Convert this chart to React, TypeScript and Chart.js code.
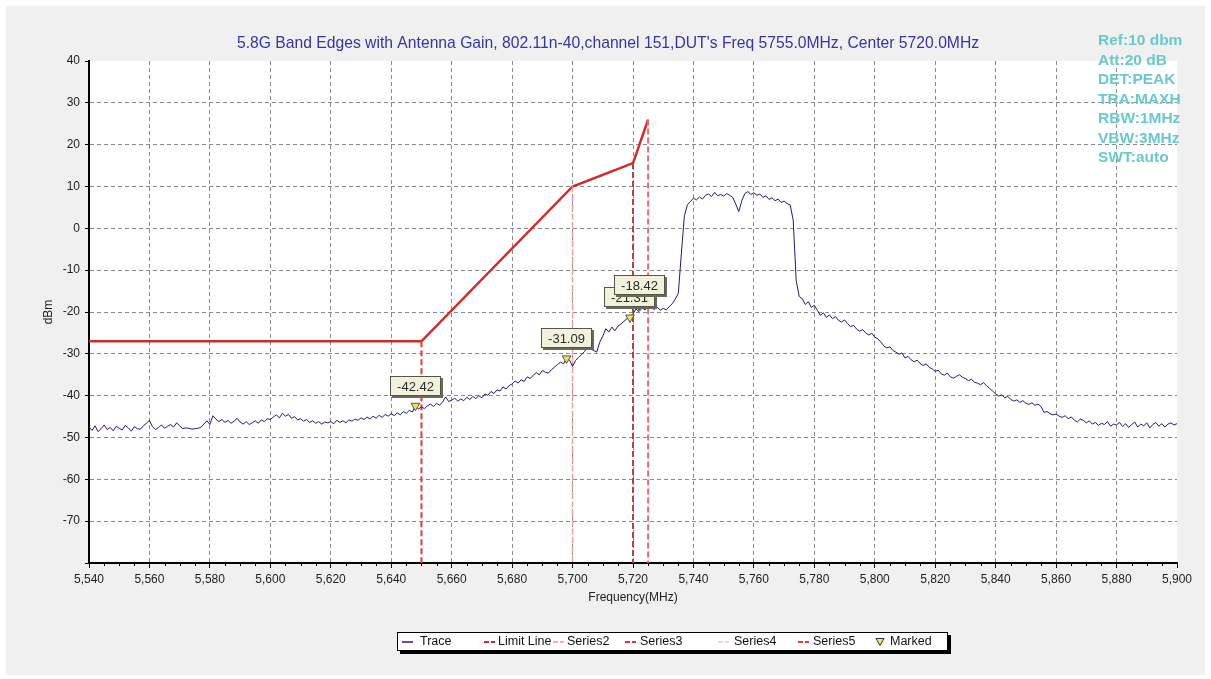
import { useEffect, useRef } from "react";
import { Chart, registerables } from "chart.js";

Chart.register(...registerables);

const TITLE =
  "5.8G Band Edges with Antenna Gain, 802.11n-40,channel 151,DUT's Freq 5755.0MHz, Center 5720.0MHz";
const INFO_LINES = ["Ref:10 dbm", "Att:20 dB", "DET:PEAK", "TRA:MAXH", "RBW:1MHz", "VBW:3MHz", "SWT:auto"];
const X_TITLE = "Frequency(MHz)";
const Y_TITLE = "dBm";

const X_MIN = 5540;
const X_MAX = 5900;
const X_STEP = 20;
const Y_MIN = -80;
const Y_MAX = 40;
const Y_STEP = 10;

// Trace: one value per MHz, starting at 5540 MHz
const TRACE_START = 5540;
const TRACE_STEP = 1;
const traceValues = [
  -47.5, -48.3, -47.2, -48.6, -47.9, -47.0, -48.1, -47.6, -48.4, -47.3, -47.8, -48.2, -47.1, -47.7, -48.5, -47.4, -47.9, -48.0, -47.2, -46.6,
  -45.9, -47.4, -48.1, -47.6, -47.0, -47.8, -47.3, -46.9, -47.5, -46.5, -47.2, -47.9, -47.7, -47.8, -48.0, -47.9, -47.8, -47.6, -46.8, -46.0,
  -46.9, -44.8, -45.6, -46.2, -45.7, -46.4, -45.9, -46.6, -46.1, -45.4, -46.3, -46.8, -46.2, -46.9, -46.5, -46.0, -46.6, -45.8, -46.2, -45.5,
  -45.7, -45.1, -44.6, -45.3, -44.2, -44.9, -44.5, -45.4, -45.0, -45.8, -45.5, -46.1, -45.7, -46.4, -46.0, -46.6, -46.2, -46.8, -46.3, -46.5,
  -46.2, -46.7, -45.9, -46.4, -46.0, -46.5, -45.8, -46.1, -45.6, -45.9, -45.3, -45.7, -45.1, -45.6, -44.9, -45.4, -44.7, -45.2, -44.5, -44.9,
  -44.3, -44.8, -44.1, -44.6, -43.8, -44.2, -43.5, -43.9, -42.4, -43.2, -42.7, -43.1, -42.4, -42.0, -42.6, -41.8, -42.3, -41.5, -40.3, -41.4,
  -41.1, -40.6, -41.3, -40.8, -41.2, -40.4, -40.9, -40.2, -40.7, -40.0, -40.5, -39.6, -39.9, -39.0, -39.5, -38.6, -38.9, -37.9, -38.4, -37.6,
  -37.2, -36.5, -37.0, -36.2, -36.6, -35.5, -35.9, -35.1, -34.5, -35.0, -34.0, -34.4, -34.6, -33.8, -33.2, -32.6, -32.0, -32.4, -31.2, -31.5,
  -33.0, -31.6, -30.8, -30.2, -29.4, -28.4, -28.9, -29.2, -29.6, -27.2, -25.8, -24.0, -24.8, -23.6, -24.5, -23.4, -22.9, -22.2, -21.6, -21.2,
  -20.4, -19.3, -19.9, -19.1, -19.5, -18.6, -18.9, -19.4, -18.8, -19.6, -19.1, -19.5, -18.7, -18.0, -16.9, -15.5, -6.0, 3.0, 5.6, 6.4,
  7.2, 6.8, 7.5, 7.0, 7.9, 8.2, 7.6, 8.6, 7.8, 8.1, 7.7, 8.3, 7.9, 7.4, 5.8, 4.0, 6.6, 8.3, 8.8, 8.1,
  8.5, 7.9, 8.2, 7.4, 7.8, 6.9, 7.3, 6.6, 7.0, 6.2, 6.5, 5.9, 5.6, 2.0, -12.5, -16.3, -16.8, -18.2, -17.5, -18.9,
  -18.4, -19.6, -20.8, -20.2, -21.3, -20.7, -21.6, -21.1, -22.0, -22.4, -21.9, -22.8, -23.5, -23.2, -24.1, -24.6, -24.2, -25.0, -25.5, -25.1,
  -26.0, -26.4, -27.2, -28.1, -28.6, -28.3, -29.2, -29.6, -30.1, -29.8, -31.0, -30.6, -31.4, -31.9, -31.5, -32.3, -32.8, -32.4, -33.2, -33.6,
  -34.2, -33.9, -34.8, -35.1, -34.6, -35.5, -35.8, -35.4, -35.0, -35.6, -35.9, -36.4, -36.1, -36.8, -37.0, -37.4, -36.9, -37.6, -38.3, -38.9,
  -39.6, -40.1, -39.8, -40.5, -40.2, -40.9, -41.3, -41.0, -41.6, -41.2, -41.8, -42.1, -41.7, -42.3, -42.0, -42.6, -44.0, -43.8, -44.3, -44.6,
  -44.4, -44.9, -45.2, -44.8, -45.5, -45.1, -45.8, -46.3, -45.6, -45.9, -46.5, -46.0, -46.8, -46.4, -47.1, -46.6, -46.9, -46.2, -47.3, -46.8,
  -47.0, -46.4, -47.4, -46.7, -47.6, -46.9, -46.3, -47.5, -46.8, -47.2, -46.5, -47.7, -46.9, -46.4, -47.3, -46.7, -47.5, -46.8, -46.5, -47.0, -46.7,
];

// Limit line
const limitFreqs = [5540, 5650, 5700, 5720, 5725];
const limitValues = [-27, -27, 10, 15.6, 26];

// Vertical band-edge lines
const series2Freqs = [5700, 5700];
const series2Values = [10, -80];
const series3Freqs = [5650, 5650];
const series3Values = [-27, -80];
const series4Freqs = [5725, 5725];
const series4Values = [26, -80];
const series5Freqs = [5720, 5720];
const series5Values = [15.6, -80];

// Markers
const markerFreqs = [5648, 5698, 5719, 5722];
const markerValues = [-42.42, -31.09, -21.31, -18.42];
const markerLabels = ["-42.42", "-31.09", "-21.31", "-18.42"];

const legendLabels = ["Trace", "Limit Line", "Series2", "Series3", "Series4", "Series5", "Marked"];

const FONT = "Arial, 'Liberation Sans', sans-serif";

const toPoints = (xs: number[], ys: number[]) => xs.map((x, i) => ({ x, y: ys[i] }));

const formatFreq = (v: number) => {
  const th = Math.floor(v / 1000);
  const rest = String(Math.round(v % 1000)).padStart(3, "0");
  return `${th},${rest}`;
};

const backgroundPlugin = {
  id: "bg",
  beforeDraw(chart: any) {
    const { ctx, width, height, chartArea } = chart;
    ctx.save();
    ctx.fillStyle = "#ffffff";
    ctx.fillRect(0, 0, width, height);
    ctx.fillStyle = "#f0f0f0";
    ctx.fillRect(6, 6, width - 12, height - 10);
    ctx.fillStyle = "#ffffff";
    ctx.fillRect(chartArea.left, chartArea.top, chartArea.right - chartArea.left, chartArea.bottom - chartArea.top);
    ctx.restore();
  },
};

const minorTickPlugin = {
  id: "minorTicks",
  afterDraw(chart: any) {
    const { ctx, chartArea } = chart;
    const xs = chart.scales.x;
    ctx.save();
    ctx.strokeStyle = "#000";
    ctx.lineWidth = 1;
    for (let f = X_MIN + 5; f < X_MAX; f += 5) {
      if (f % X_STEP === 0) continue;
      const px = Math.round(xs.getPixelForValue(f)) + 0.5;
      ctx.beginPath();
      ctx.moveTo(px, chartArea.bottom);
      ctx.lineTo(px, chartArea.bottom + 3);
      ctx.stroke();
    }
    ctx.restore();
  },
};

const textPlugin = {
  id: "texts",
  afterDraw(chart: any) {
    const { ctx } = chart;
    ctx.save();
    // title
    ctx.font = `15.7px ${FONT}`;
    ctx.fillStyle = "#3535a5";
    ctx.textAlign = "center";
    ctx.textBaseline = "middle";
    ctx.fillText(TITLE, 608, 44);
    // info lines
    ctx.font = `bold 15.5px ${FONT}`;
    ctx.fillStyle = "#6cc8cc";
    ctx.textAlign = "left";
    INFO_LINES.forEach((t, i) => {
      ctx.fillText(t, 1098, 41 + i * 19.5);
    });
    ctx.restore();
  },
};

const markerLabelPlugin = {
  id: "markerLabels",
  afterDatasetsDraw(chart: any) {
    const { ctx } = chart;
    const xs = chart.scales.x;
    const ys = chart.scales.y;
    ctx.save();
    ctx.font = `13px ${FONT}`;
    ctx.textAlign = "center";
    ctx.textBaseline = "middle";
    markerFreqs.forEach((f, i) => {
      const px = xs.getPixelForValue(f);
      const py = ys.getPixelForValue(markerValues[i]);
      const tw = ctx.measureText(markerLabels[i]).width;
      const w = Math.round(tw + 14);
      const h = 20;
      const left = Math.round(px - w / 2);
      const top = Math.round(py - 10 - h);
      ctx.fillStyle = "#6a6a5a";
      ctx.fillRect(left + 2, top + 2, w, h);
      ctx.fillStyle = "#f2f2dc";
      ctx.fillRect(left, top, w, h);
      ctx.strokeStyle = "#55554a";
      ctx.lineWidth = 1;
      ctx.strokeRect(left + 0.5, top + 0.5, w - 1, h - 1);
      ctx.fillStyle = "#2a2a2a";
      ctx.fillText(markerLabels[i], left + w / 2, top + h / 2 + 1);
    });
    ctx.restore();
  },
};

const legendPlugin = {
  id: "customLegend",
  afterDraw(chart: any) {
    const { ctx } = chart;
    const bx = 397;
    const by = 632;
    const bw = 551;
    const bh = 19;
    ctx.save();
    ctx.fillStyle = "#000";
    ctx.fillRect(bx + 3, by + 3, bw, bh);
    ctx.fillStyle = "#fff";
    ctx.fillRect(bx, by, bw, bh);
    ctx.strokeStyle = "#000";
    ctx.lineWidth = 1;
    ctx.strokeRect(bx + 0.5, by + 0.5, bw - 1, bh - 1);

    const cy = by + bh / 2 + 0.5;
    const items = [
      { sx: 402, tx: 420, color: "#1c1c80", dash: [] as number[], width: 1.5 },
      { sx: 484, tx: 498, color: "#c42a2e", dash: [5, 2], width: 2 },
      { sx: 553, tx: 567, color: "#f2b0b0", dash: [5, 2], width: 2 },
      { sx: 625, tx: 640, color: "#d83838", dash: [5, 2], width: 2 },
      { sx: 718, tx: 734, color: "#f4d2d2", dash: [5, 2], width: 2 },
      { sx: 798, tx: 813, color: "#d84040", dash: [5, 2], width: 2 },
    ];
    items.forEach((it, i) => {
      ctx.save();
      ctx.strokeStyle = it.color;
      ctx.lineWidth = it.width;
      ctx.setLineDash(it.dash);
      ctx.beginPath();
      ctx.moveTo(it.sx, cy);
      ctx.lineTo(it.sx + 11, cy);
      ctx.stroke();
      ctx.restore();
      ctx.font = `12.5px ${FONT}`;
      ctx.fillStyle = "#111";
      ctx.textAlign = "left";
      ctx.textBaseline = "middle";
      ctx.fillText(legendLabels[i], it.tx, cy);
    });
    // marked triangle
    ctx.beginPath();
    ctx.moveTo(876, cy - 3.5);
    ctx.lineTo(884, cy - 3.5);
    ctx.lineTo(880, cy + 3.5);
    ctx.closePath();
    ctx.fillStyle = "#f2e64a";
    ctx.fill();
    ctx.strokeStyle = "#333";
    ctx.lineWidth = 1;
    ctx.stroke();
    ctx.font = `12.5px ${FONT}`;
    ctx.fillStyle = "#111";
    ctx.textBaseline = "middle";
    ctx.fillText(legendLabels[6], 890, cy);
    ctx.restore();
  },
};

export default function App() {
  const canvasRef = useRef<HTMLCanvasElement | null>(null);

  useEffect(() => {
    document.body.style.margin = "0";
    document.body.style.overflow = "hidden";
    const canvas = canvasRef.current;
    if (!canvas) return;

    const tracePoints = traceValues.map((v, i) => ({ x: TRACE_START + i * TRACE_STEP, y: v }));

    const lineBase = {
      type: "line" as const,
      pointRadius: 0,
      pointHoverRadius: 0,
      tension: 0,
      fill: false,
    };

    const chart = new Chart(canvas, {
      type: "line",
      data: {
        datasets: [
          {
            ...lineBase,
            label: legendLabels[1],
            data: toPoints(limitFreqs, limitValues),
            borderColor: "#d22a2a",
            borderWidth: 2.5,
            order: 5,
          },
          {
            ...lineBase,
            label: legendLabels[2],
            data: toPoints(series2Freqs, series2Values),
            borderColor: "#f0a0a4",
            borderWidth: 1.5,
            borderDash: [6, 3],
            order: 4,
          },
          {
            ...lineBase,
            label: legendLabels[3],
            data: toPoints(series3Freqs, series3Values),
            borderColor: "#e23c3c",
            borderWidth: 2,
            borderDash: [6, 3],
            order: 4,
          },
          {
            ...lineBase,
            label: legendLabels[4],
            data: toPoints(series4Freqs, series4Values),
            borderColor: "#ec6a6e",
            borderWidth: 2,
            borderDash: [6, 3],
            order: 4,
          },
          {
            ...lineBase,
            label: legendLabels[5],
            data: toPoints(series5Freqs, series5Values),
            borderColor: "#a84848",
            borderWidth: 2,
            borderDash: [6, 3],
            order: 4,
          },
          {
            ...lineBase,
            label: legendLabels[0],
            data: tracePoints,
            borderColor: "#1c1c80",
            borderWidth: 1,
            order: 2,
          },
          {
            type: "scatter" as const,
            label: legendLabels[6],
            data: toPoints(markerFreqs, markerValues),
            pointStyle: "triangle",
            rotation: 180,
            pointRadius: 5,
            pointBackgroundColor: "#f2e64a",
            pointBorderColor: "#555",
            pointBorderWidth: 1,
            showLine: false,
            order: 1,
          },
        ],
      },
      options: {
        animation: false,
        responsive: false,
        maintainAspectRatio: false,
        parsing: true,
        layout: { padding: { left: 41, top: 61, right: 34, bottom: 74 } },
        plugins: {
          legend: { display: false },
          title: { display: false },
          tooltip: { enabled: false },
        },
        scales: {
          x: {
            type: "linear",
            min: X_MIN,
            max: X_MAX,
            afterFit(scale: any) {
              scale.height = 42;
            },
            ticks: {
              stepSize: X_STEP,
              autoSkip: false,
              maxRotation: 0,
              padding: 4,
              color: "#222",
              font: { family: FONT, size: 12 },
              callback: (v: any) => formatFreq(Number(v)),
            },
            grid: {
              color: (c: any) =>
                c.tick && (c.tick.value === X_MIN || c.tick.value === X_MAX) ? "rgba(0,0,0,0)" : "#8a8a8a",
              lineWidth: 1,
              tickColor: "#000",
              tickLength: 5,
              tickBorderDash: [],
            },
            border: { display: true, color: "#000", width: 2, dash: [4, 3] },
            title: {
              display: true,
              text: X_TITLE,
              color: "#222",
              font: { family: FONT, size: 12 },
              padding: 0,
            },
          },
          y: {
            type: "linear",
            min: Y_MIN,
            max: Y_MAX,
            afterFit(scale: any) {
              scale.width = 48;
            },
            ticks: {
              stepSize: Y_STEP,
              autoSkip: false,
              padding: 5,
              color: "#222",
              font: { family: FONT, size: 12 },
              callback: (v: any) => (Number(v) === Y_MIN ? "" : String(v)),
            },
            grid: {
              color: (c: any) =>
                c.tick && (c.tick.value === Y_MIN || c.tick.value === Y_MAX) ? "rgba(0,0,0,0)" : "#8a8a8a",
              lineWidth: 1,
              tickColor: "#000",
              tickLength: 4,
              tickBorderDash: [],
            },
            border: { display: true, color: "#000", width: 2, dash: [4, 3] },
            title: {
              display: true,
              text: Y_TITLE,
              color: "#222",
              font: { family: FONT, size: 12 },
              padding: 0,
            },
          },
        },
      },
      plugins: [backgroundPlugin, minorTickPlugin, markerLabelPlugin, textPlugin, legendPlugin],
    } as any);

    return () => {
      chart.destroy();
    };
  }, []);

  return (
    <div style={{ width: 1211, height: 679, position: "relative" }}>
      <canvas ref={canvasRef} width={1211} height={679} style={{ display: "block", width: 1211, height: 679 }} />
    </div>
  );
}
